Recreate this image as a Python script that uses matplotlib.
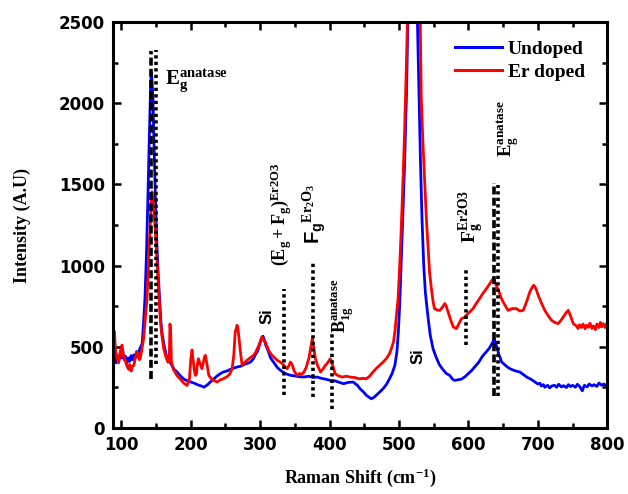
import matplotlib
matplotlib.use("Agg")
import matplotlib.pyplot as plt

plt.rcParams['mathtext.fontset'] = 'custom'
plt.rcParams['mathtext.rm'] = 'Liberation Serif:bold'
plt.rcParams['mathtext.bf'] = 'Liberation Serif:bold'
plt.rcParams['mathtext.it'] = 'Liberation Serif:bold'
plt.rcParams['mathtext.sf'] = 'Liberation Sans:bold'

# Undoped spectrum
undoped_x = [88, 90, 92, 94, 96, 98, 100, 102, 104, 106, 108, 110, 112, 114, 116, 118, 120, 122, 124, 126,
             128, 130, 132, 134, 136, 138, 140, 142, 143, 144, 145.5, 147, 149, 151, 153, 155, 157, 159, 162,
             165, 168, 172, 176, 180, 185, 190, 195, 200, 205, 210, 215, 219, 224, 228, 233, 238, 243, 247,
             252, 257, 262, 267, 272, 277, 282, 286, 290, 293, 296, 299, 302, 304, 306, 308, 311, 315, 320,
             325, 329, 334, 339, 344, 350, 356, 363, 370, 376, 382, 388, 394, 401, 407, 414, 420, 427, 434,
             440, 444, 449, 453, 457, 460, 464, 467, 472, 477, 482, 486, 490, 494, 497, 499, 501, 503, 505,
             508, 511, 513, 516, 520, 524, 526, 528.5, 531, 533, 535.6, 538, 542, 545, 549, 553, 558, 563,
             568, 573, 577, 580, 585, 590, 595, 600, 605, 610, 615, 620, 625, 630, 634, 637, 640, 644, 648,
             652, 656, 660, 665, 670, 674, 680, 685, 689, 695, 700, 703, 705, 708, 710, 714, 717, 720, 724,
             727, 730, 734, 737, 741, 744, 747, 750, 754, 757, 760, 764, 767, 771, 774, 778, 781, 785, 788,
             792, 795, 799, 800]
undoped_y = [420, 470, 400, 440, 410, 450, 430, 470, 420, 440, 400, 430, 410, 445, 420, 450, 430, 470, 445, 480,
             500, 520, 650, 800, 1050, 1380, 1750, 2080, 2190, 2150, 2030, 1750, 1420, 1150, 950, 800, 650, 570, 500,
             440, 420, 390, 360, 345, 320, 300, 290, 282, 275, 265, 258, 250, 265, 282, 300, 320, 335, 344,
             350, 360, 368, 375, 380, 390, 398, 405, 425, 450, 470, 510, 555, 565, 540, 510, 480, 430, 400,
             370, 355, 340, 330, 323, 320, 315, 313, 318, 310, 313, 305, 300, 292, 290, 280, 272, 280, 282,
             262, 240, 220, 200, 188, 179, 188, 200, 220, 241, 268, 300, 335, 385, 470, 590, 760, 1000, 1250,
             1620, 2100, 2600, 3500, 6000, 3500, 2600, 2100, 1620, 1300, 1000, 830, 673, 570, 488, 440, 390, 360,
             335, 323, 300, 292, 296, 300, 315, 335, 355, 380, 405, 440, 465, 490, 520, 545, 510, 450, 405,
             390, 375, 364, 355, 348, 344, 325, 310, 302, 285, 270, 275, 258, 266, 250, 262, 246, 258, 262,
             250, 268, 252, 260, 248, 266, 254, 262, 250, 268, 256, 228, 262, 252, 270, 258, 266, 255, 276,
             262, 270, 258, 272]

# Er doped spectrum
doped_x = [88, 89, 90, 91.5, 93, 94.5, 96, 98, 100, 101, 103, 105, 106, 108, 110.6, 112, 114, 116, 118, 120,
           122.6, 124, 126, 127, 129, 132, 134, 137, 139, 141, 143, 144, 145.6, 147, 149, 151, 153, 156, 158,
           161, 164, 167, 169, 170, 171, 172, 175, 180, 185, 190, 194.6, 198, 200, 201.8, 203, 205, 206.6,
           208, 209.5, 211, 213, 216, 218, 220, 221, 223, 226, 230, 234, 238, 242, 247, 252, 256, 259.5, 262,
           264, 266.7, 268, 270, 272, 274, 277, 281, 285, 288, 290.6, 294, 298, 300, 302.7, 305, 307.5, 310,
           313, 317, 321, 325, 329, 333, 336, 338.7, 341, 343.5, 346, 349, 353, 357, 360, 363, 366, 370, 373,
           375, 377, 379.5, 383, 387, 390, 394, 397, 401, 404, 408, 413, 418, 424, 429, 436, 443, 448, 453,
           458, 462.5, 467, 472, 477, 481.7, 486, 489, 492, 494, 496.5, 498.6, 501, 503, 505.5, 508, 511, 513,
           516, 520, 525, 530, 532, 534.5, 537, 539.5, 542, 544, 546.6, 549, 551, 555, 558.7, 562, 566, 568,
           570.7, 574, 578, 582.7, 586, 590, 594, 597, 602, 606.7, 611, 616, 621, 626, 631, 635.6, 638, 640,
           644, 647.6, 652, 657, 663, 669, 674, 679, 684, 688.5, 691, 694, 697, 700.5, 705, 710, 715, 719.7,
           724, 729, 733, 736.5, 740, 743.8, 747, 751, 755, 758, 760, 763, 765, 768, 770, 773, 775, 778,
           780, 783, 785, 788, 790, 792, 794, 797, 800]
doped_y = [380, 600, 590, 480, 450, 420, 400, 460, 500, 510, 440, 420, 410, 380, 360, 390, 350, 380, 385, 430,
           467, 440, 420, 426, 470, 550, 650, 800, 1000, 1208, 1400, 1455, 1414, 1330, 1208, 1050, 900, 673, 580,
           488, 440, 405, 420, 640, 600, 405, 360, 323, 300, 275, 261, 300, 420, 480, 430, 360, 323,
           330, 390, 426, 400, 364, 400, 440, 447, 400, 323, 300, 290, 282, 295, 302, 315, 330, 364, 450,
           590, 632, 610, 529, 450, 385, 400, 416, 430, 440, 447, 470, 508, 530, 560, 540, 529, 500,
           470, 447, 430, 415, 405, 390, 375, 364, 380, 405, 390, 350, 323, 335, 330, 344, 370, 426, 500,
           549, 500, 426, 380, 344, 360, 385, 400, 426, 390, 333, 320, 313, 318, 313, 310, 302, 305, 302,
           320, 344, 365, 385, 405, 426, 455, 488, 530, 591, 700, 796, 1000, 1208, 1500, 1825, 2300, 2700,
           3800, 6000, 3800, 2700, 2031, 1750, 1517, 1280, 1105, 960, 858, 780, 735, 725, 724, 740, 766, 750,
           714, 670, 622, 611, 640, 673, 680, 694, 715, 735, 765, 796, 830, 858, 890, 920, 900, 879,
           840, 796, 760, 724, 735, 735, 720, 724, 780, 838, 860, 879, 860, 817, 770, 724, 690, 663,
           650, 642, 660, 683, 705, 724, 690, 642, 630, 612, 635, 618, 640, 610, 632, 620, 645, 612,
           628, 605, 640, 618, 650, 622, 642, 618, 652]

# Peak markers: x position, bottom, top, style
marker_x = [143, 150, 334, 376, 403.5, 597, 636.5, 642]
marker_lo = [300, 395, 200, 190, 117, 508, 195, 195]
marker_hi = [2320, 2330, 858, 1023, 591, 982, 1510, 1495]
marker_dash = [True, False, False, False, False, False, True, False]

fig = plt.figure(figsize=(6.28, 4.94), dpi=100)
ax = fig.add_axes([0.180, 0.134, 0.787, 0.821])

ax.plot(undoped_x, undoped_y, color='#0000ff', lw=2.0, label='Undoped')
ax.plot(doped_x, doped_y, color='#ff0000', lw=2.0, label='Er doped')

for mx, lo, hi, dash in zip(marker_x, marker_lo, marker_hi, marker_dash):
    ls = (0, (2.2, 0.9)) if dash else (0, (0.9, 0.9))
    ax.plot([mx, mx], [lo, hi], color='black', lw=2.6, linestyle=ls, solid_capstyle='butt',
            dash_capstyle='butt')

ax.set_xlim(88, 800)
ax.set_ylim(0, 2500)
ax.set_xticks([100, 200, 300, 400, 500, 600, 700, 800])
ax.set_xticks([150, 250, 350, 450, 550, 650, 750], minor=True)
ax.set_yticks([0, 500, 1000, 1500, 2000, 2500])
ax.set_yticks([250, 750, 1250, 1750, 2250], minor=True)
ax.tick_params(which='both', direction='in', top=True, right=True, width=1.8)
ax.tick_params(which='major', length=6, pad=6, labelsize=12)
ax.tick_params(which='minor', length=3.5)
for lab in ax.get_xticklabels() + ax.get_yticklabels():
    lab.set_fontfamily('DejaVu Sans')
    lab.set_fontweight('bold')
for sp in ax.spines.values():
    sp.set_linewidth(2.2)

ax.set_xlabel(r'Raman Shift (cm$^{\mathbf{-1}}$)', family='Liberation Serif', weight='bold',
              fontsize=13, labelpad=9)
ax.set_ylabel('Intensity (A.U)', family='Liberation Serif', weight='bold', fontsize=13, labelpad=20)

# annotations
ax.text(163.4, 2115, r'$\mathbf{E_g^{anatase}}$', fontsize=15, ha='left', va='baseline')
ax.text(310, 687, 'Si', family='Liberation Sans', weight='bold', fontsize=12, rotation=90,
        ha='center', va='center')
ax.text(330.5, 1318, r'$\mathbf{(E_g+F_g)^{Er2O3}}$', fontsize=13, rotation=90, ha='center', va='center')
ax.text(378, 1318, r'$\mathsf{F_g}\mathbf{^{Er_2O_3}}$', fontsize=14.5, rotation=90, ha='center', va='center')
ax.text(419, 751, r'$\mathbf{B_{1g}^{anatase}}$', fontsize=13, rotation=90, ha='center', va='center')
ax.text(527, 439, 'Si', family='Liberation Sans', weight='bold', fontsize=12, rotation=90,
        ha='center', va='center')
ax.text(604, 1303, r'$\mathbf{F_g^{Er2O3}}$', fontsize=14, rotation=90, ha='center', va='center')
ax.text(657, 1843, r'$\mathbf{E_g^{anatase}}$', fontsize=13.5, rotation=90, ha='center', va='center')

leg = ax.legend(loc='upper left', bbox_to_anchor=(0.692, 0.955), frameon=False, borderpad=0,
                borderaxespad=0, handlelength=2.4, handletextpad=0.3, labelspacing=0.25,
                prop={'family': 'Liberation Serif', 'weight': 'bold', 'size': 14})
for h in leg.get_lines():
    h.set_linewidth(2.2)

fig.savefig('out.png', dpi=100)
